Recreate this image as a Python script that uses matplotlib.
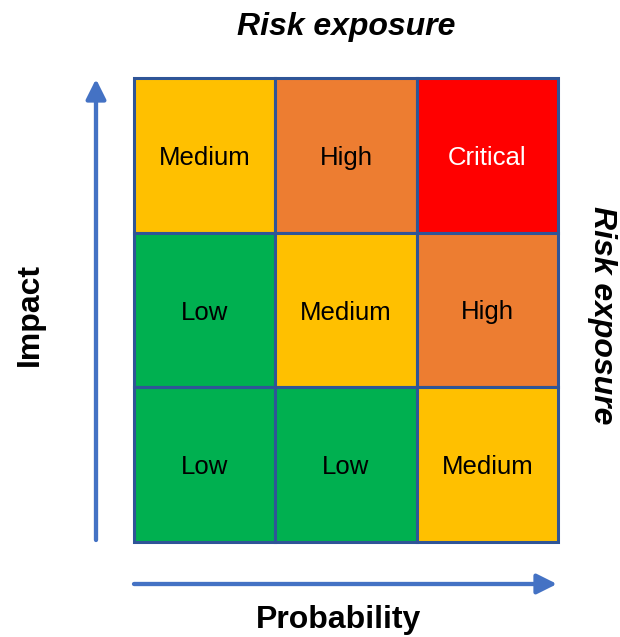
import numpy as np
import matplotlib
matplotlib.use("Agg")
import matplotlib.pyplot as plt
from matplotlib.patches import Rectangle

plt.rcParams['font.family'] = ['Liberation Sans', 'DejaVu Sans']

# rows listed top to bottom, columns left to right (probability increases to the right)
labels = [
    ["Medium", "High", "Critical"],
    ["Low", "Medium", "High"],
    ["Low", "Low", "Medium"],
]
level_colors = {
    "Low": "#00B050",
    "Medium": "#FFC000",
    "High": "#ED7D31",
    "Critical": "#FF0000",
}
text_colors = {"Low": "black", "Medium": "black", "High": "black", "Critical": "white"}

title = "Risk exposure"
x_title = "Probability"
y_title = "Impact"

W, H = 620, 637
fig = plt.figure(figsize=(W / 100, H / 100), dpi=100)

# grid area in pixel terms -> figure fractions
gx0, gx1, gy0, gy1 = 134, 558, 78, 542
ax = fig.add_axes([gx0 / W, 1 - gy1 / H, (gx1 - gx0) / W, (gy1 - gy0) / H])
n = len(labels)
ax.set_xlim(0, n)
ax.set_ylim(0, n)
ax.axis('off')

for r, row in enumerate(labels):
    y = n - 1 - r
    for c, lab in enumerate(row):
        ax.add_patch(Rectangle((c, y), 1, 1, facecolor=level_colors[lab],
                               edgecolor='#2F5597', linewidth=2.2, clip_on=False))
        ax.text(c + 0.5, y + 0.5, lab, ha='center', va='center_baseline',
                fontsize=18.5, color=text_colors[lab])

# axis arrows
arrow_kw = dict(arrowstyle='-|>,head_length=0.6,head_width=0.3', mutation_scale=20,
                lw=3.1, color='#4472C4', shrinkA=0, shrinkB=0)
ax.annotate('', xy=(96 / W, 1 - 79 / H), xytext=(96 / W, 1 - 540 / H),
            xycoords='figure fraction', textcoords='figure fraction', arrowprops=arrow_kw)
ax.annotate('', xy=(557 / W, 1 - 584 / H), xytext=(134 / W, 1 - 584 / H),
            xycoords='figure fraction', textcoords='figure fraction', arrowprops=arrow_kw)

fig.text(346 / W, 1 - 27 / H, title, ha='center', va='center',
         fontsize=23, fontweight='bold', fontstyle='italic')
fig.text(602 / W, 1 - 315 / H, title, ha='center', va='center', rotation=-90,
         fontsize=23, fontweight='bold', fontstyle='italic')
fig.text(338 / W, 1 - 620 / H, x_title, ha='center', va='center',
         fontsize=23, fontweight='bold')
fig.text(30 / W, 1 - 314 / H, y_title, ha='center', va='center', rotation=90,
         fontsize=23, fontweight='bold')

fig.savefig('out.png', dpi=100, facecolor='white')
